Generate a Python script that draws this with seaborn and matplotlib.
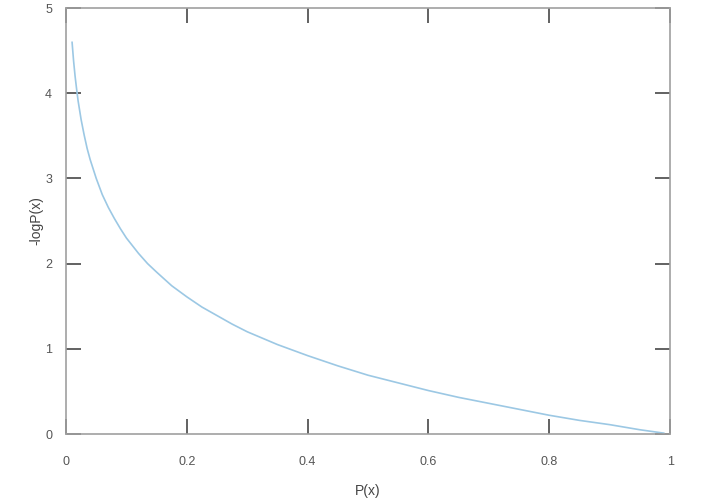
import numpy as np
import pandas as pd
import seaborn as sns
import matplotlib
matplotlib.use('Agg')
import matplotlib.pyplot as plt

# values
p_x = [0.01, 0.0125, 0.015, 0.0175, 0.02, 0.025, 0.03, 0.035, 0.04, 0.05, 0.06, 0.07,
       0.08, 0.09, 0.1, 0.11, 0.12, 0.135, 0.15, 0.175, 0.2, 0.225, 0.25, 0.275, 0.3,
       0.35, 0.4, 0.45, 0.5, 0.55, 0.6, 0.65, 0.7, 0.75, 0.8, 0.85, 0.9, 0.95, 0.99]
neg_log_p = [4.6, 4.38, 4.2, 4.05, 3.91, 3.69, 3.51, 3.35, 3.22, 3.0, 2.81, 2.66,
             2.53, 2.41, 2.3, 2.21, 2.12, 2.0, 1.9, 1.74, 1.61, 1.49, 1.39, 1.29, 1.2,
             1.05, 0.92, 0.8, 0.69, 0.6, 0.51, 0.43, 0.36, 0.29, 0.22, 0.16, 0.11, 0.05, 0.01]
x_ticks = [0, 0.2, 0.4, 0.6, 0.8, 1]
y_ticks = [0, 1, 2, 3, 4, 5]

df = pd.DataFrame({'P(x)': p_x, '-logP(x)': neg_log_p})

sns.set_style('white')
plt.rcParams['font.family'] = ['Liberation Sans', 'DejaVu Sans']

fig = plt.figure(figsize=(7.2, 5.01), dpi=100)
ax = fig.add_axes([0.0917, 0.1337, 0.839, 0.8503])

sns.lineplot(data=df, x='P(x)', y='-logP(x)', color='#9cc8e4', linewidth=1.2, ax=ax)

ax.set_xlim(0, 1)
ax.set_ylim(0, 5)
ax.set_xticks(x_ticks)
ax.set_xticklabels(['0', '0.2', '0.4', '0.6', '0.8', '1'])
ax.set_yticks(y_ticks)

for s in ax.spines.values():
    s.set_color('#a0a0a0')
    s.set_linewidth(1.2)

ax.tick_params(axis='both', direction='in', length=11, width=1.3, color='#555555',
               labelcolor='#555555', labelsize=9, top=True, right=True,
               bottom=True, left=True)
ax.tick_params(axis='x', pad=16)
ax.tick_params(axis='y', pad=10)

ax.set_xlabel('P(x)', fontsize=10, color='#444444', labelpad=11)
ax.set_ylabel('-logP(x)', fontsize=10, color='#444444', labelpad=1)

fig.savefig('out.png', dpi=100)
